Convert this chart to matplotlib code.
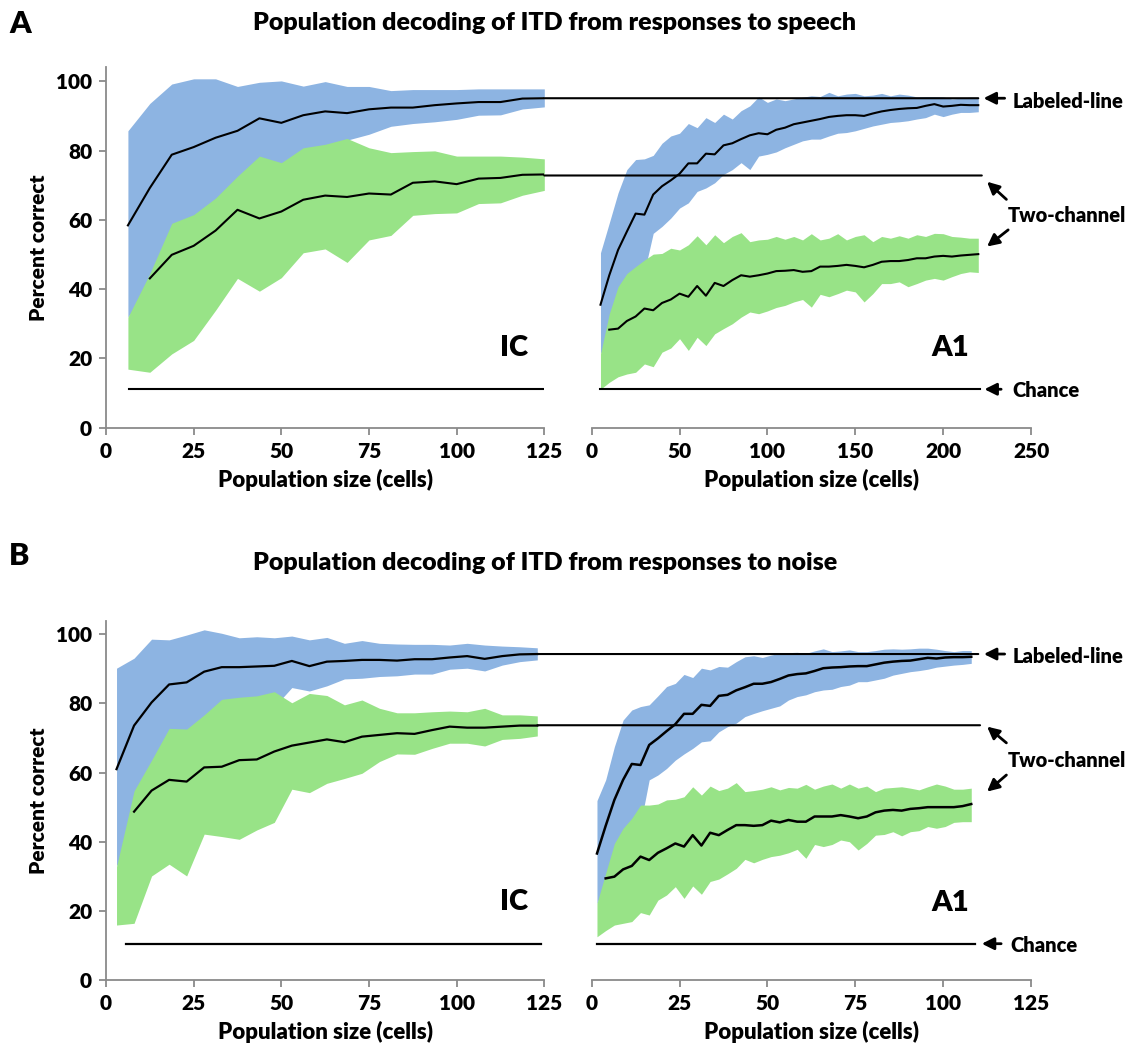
import numpy as np
import matplotlib
matplotlib.use("Agg")
import matplotlib.pyplot as plt
from matplotlib.patches import ConnectionPatch

plt.rcParams['font.family'] = ['Lato', 'DejaVu Sans']
plt.rcParams['font.weight'] = 'heavy'
WT = 'heavy'

BLUE = "#8db4e2"
GREEN = "#98e387"
SPINE = "#8a8a8a"
nan = np.nan

# ---------------- panel A (speech) ----------------
ic_speech_n = [6.25, 12.5, 18.75, 25, 31.25, 37.5, 43.75, 50, 56.25, 62.5,
               68.75, 75, 81.25, 87.5, 93.75, 100, 106.25, 112.5, 118.75, 125]
ic_speech_ll = [58.4, 69.2, 78.8, 81.0, 83.7, 85.7, 89.3, 88.0, 90.2, 91.3,
                90.8, 91.9, 92.4, 92.4, 93.1, 93.6, 94.0, 94.0, 95.0, 95.1]
ic_speech_ll_hi = [85.7, 93.6, 99.2, 100.7, 100.7, 98.5, 99.7, 100.1, 98.6, 99.9,
                   98.5, 98.5, 97.3, 97.6, 97.6, 97.6, 97.8, 97.8, 97.8, 97.8]
ic_speech_ll_lo = [32, 40, 48, 54, 62, 70, 74, 76, 80.5, 81.5,
                   83, 84.7, 87, 87.8, 88.3, 89, 90.2, 90.3, 92, 92.6]
ic_speech_tc = [nan, 43.1, 49.9, 52.5, 56.9, 62.9, 60.4, 62.4, 65.8, 67.0,
                66.6, 67.6, 67.3, 70.7, 71.1, 70.3, 71.9, 72.1, 73.0, 73.1]
ic_speech_tc_hi = [31.9, 44.5, 59.0, 61.5, 66.3, 72.6, 78.4, 76.5, 80.8, 81.8,
                   83.5, 80.8, 79.4, 79.7, 79.9, 78.4, 78.4, 78.4, 78.1, 77.6]
ic_speech_tc_lo = [16.9, 16.0, 21.3, 25.2, 33.9, 43.1, 39.4, 43.3, 50.5, 51.6,
                   47.7, 54.2, 55.5, 61.3, 61.8, 62.0, 64.7, 64.9, 67.1, 68.5]

a1_speech_n = np.arange(5, 221, 5)
a1_speech_ll = [35.5, 44.0, 51.3, 56.6, 61.8, 61.5, 67.3, 69.7, 71.4, 73.3,
                76.3, 76.3, 79.1, 78.9, 81.5, 82.1, 83.3, 84.4, 85.0, 84.7,
                86.0, 86.6, 87.6, 88.1, 88.6, 89.1, 89.7, 90.0, 90.2, 90.2,
                90.0, 90.7, 91.3, 91.7, 92.0, 92.2, 92.3, 92.9, 93.4, 92.7,
                92.9, 93.2, 93.1, 93.1]
a1_speech_ll_hi = [50.5, 59.1, 67.8, 74.5, 77.4, 77.6, 78.6, 82.1, 84.2, 85.0,
                   87.8, 86.6, 89.5, 88.1, 90.5, 89.1, 91.5, 92.9, 95.5, 93.9,
                   94.9, 94.4, 94.9, 95.4, 95.8, 95.6, 96.8, 95.8, 96.3, 96.5,
                   95.8, 96.0, 96.5, 95.8, 96.3, 96.0, 95.5, 95.6, 95.6, 95.5,
                   94.9, 95.1, 95.4, 95.4]
a1_speech_ll_lo = [21.3, 27, 33, 38, 42, 45, 56.1, 58.1, 60.5, 63.4,
                   64.9, 68.2, 69.2, 70.7, 73.1, 74.5, 76.5, 74.5, 78.4, 78.9,
                   79.6, 80.8, 81.8, 82.8, 83.3, 83.3, 84.2, 85.0, 85.2, 85.7,
                   86.4, 87.1, 87.6, 88.1, 88.3, 88.6, 89.1, 89.5, 90.5, 89.8,
                   90.5, 91.0, 91.0, 91.2]
a1_speech_tc = [nan, 28.3, 28.6, 30.8, 32.1, 34.4, 33.9, 36.0, 37.0, 38.7,
                37.8, 40.9, 38.1, 41.8, 40.9, 42.6, 44.0, 43.6, 44.0, 44.5,
                45.2, 45.3, 45.5, 45.0, 45.2, 46.5, 46.5, 46.7, 47.0, 46.7,
                46.3, 47.0, 47.9, 48.1, 48.1, 48.4, 48.9, 48.9, 49.4, 49.6,
                49.4, 49.7, 49.9, 50.1]
a1_speech_tc_hi = [21.3, 32.9, 40.7, 44.5, 46.5, 48.4, 50.1, 50.3, 51.8, 51.3,
                   52.8, 55.4, 52.8, 55.7, 53.4, 55.2, 56.3, 53.7, 54.2, 54.4,
                   55.2, 54.4, 55.2, 54.2, 56.0, 54.2, 54.7, 56.0, 54.2, 55.2,
                   55.7, 53.7, 55.2, 54.7, 55.4, 54.7, 55.7, 55.2, 56.1, 56.0,
                   55.2, 55.0, 54.7, 54.7]
a1_speech_tc_lo = [11.1, 13.1, 14.7, 15.5, 16.0, 18.4, 17.6, 21.8, 23.0, 25.7,
                   22.3, 26.1, 23.7, 27.1, 28.6, 30.0, 31.9, 33.4, 32.9, 33.7,
                   34.7, 35.3, 36.3, 37.0, 34.8, 38.5, 37.8, 38.7, 39.7, 39.2,
                   36.3, 38.7, 41.6, 41.6, 42.1, 40.7, 41.6, 42.6, 43.1, 42.6,
                   43.6, 44.5, 45.0, 44.8]

# ---------------- panel B (noise) ----------------
ic_noise_n = np.arange(3, 124, 5)
ic_noise_ll = [61.0, 73.6, 80.3, 85.5, 86.1, 89.2, 90.5, 90.5, 90.7, 90.9,
               92.3, 90.8, 92.1, 92.3, 92.6, 92.6, 92.4, 92.8, 92.8, 93.3,
               93.7, 92.9, 93.7, 94.2, 94.3]
ic_noise_ll_hi = [90.2, 93.1, 98.6, 98.4, 99.8, 101.3, 100.3, 99.0, 99.3, 99.0,
                  99.5, 98.4, 99.1, 97.4, 98.2, 97.4, 97.2, 97.1, 97.1, 96.9,
                  97.4, 96.9, 96.6, 96.4, 96.1]
ic_noise_ll_lo = [33, 42, 50, 57, 62, 67, 71, 74, 76, 79,
                  84.6, 83.6, 85.1, 87.1, 87.3, 87.8, 88.0, 88.5, 88.5, 89.9,
                  90.2, 89.4, 91.1, 92.1, 92.6]
ic_noise_tc = [nan, 48.7, 54.8, 57.9, 57.4, 61.5, 61.7, 63.6, 63.8, 66.1,
               67.8, 68.7, 69.6, 68.8, 70.4, 70.9, 71.4, 71.2, 72.3, 73.3,
               73.0, 73.0, 73.3, 73.6, 73.6]
ic_noise_tc_hi = [32.8, 54.7, 63.6, 72.8, 72.6, 76.7, 81.2, 81.8, 82.2, 83.4,
                  80.2, 82.9, 82.3, 79.6, 81.0, 78.6, 77.3, 77.3, 77.6, 77.8,
                  77.6, 78.6, 76.7, 76.7, 76.4]
ic_noise_tc_lo = [15.9, 16.4, 30.1, 33.5, 30.1, 42.2, 41.5, 40.7, 43.4, 45.6,
                  55.2, 54.2, 56.9, 58.3, 59.8, 63.2, 65.4, 65.3, 67.0, 68.5,
                  68.5, 67.7, 69.6, 69.9, 70.6]

a1_noise_n = np.linspace(1.5, 108, 44)
a1_noise_ll = [36.6, 44.6, 52.1, 57.9, 62.5, 62.2, 68.0, 69.9, 72.0, 74.0,
               77.0, 77.0, 79.6, 79.3, 82.2, 82.5, 83.8, 84.7, 85.7, 85.7,
               86.2, 87.1, 88.1, 88.5, 88.7, 89.4, 90.2, 90.4, 90.5, 90.7,
               90.8, 90.8, 91.3, 91.8, 92.1, 92.3, 92.4, 92.8, 93.2, 93.0,
               93.3, 93.4, 93.4, 93.5]
a1_noise_ll_hi = [51.9, 57.9, 67.5, 75.2, 78.1, 79.1, 79.6, 82.2, 84.9, 85.8,
                  88.4, 87.5, 90.2, 89.7, 90.7, 90.5, 92.1, 93.5, 93.8, 93.3,
                  94.0, 94.5, 94.7, 94.8, 94.5, 95.2, 95.8, 95.0, 95.2, 95.5,
                  95.0, 95.0, 95.3, 95.7, 95.8, 95.7, 95.8, 96.0, 96.0, 95.7,
                  95.3, 95.0, 95.3, 95.3]
a1_noise_ll_lo = [22.2, 28, 33, 37, 42, 45, 57.9, 59.3, 61.2, 63.6,
                  65.4, 67.0, 68.9, 69.2, 71.8, 73.3, 74.3, 76.2, 77.1, 77.9,
                  78.6, 79.3, 81.0, 82.0, 82.5, 83.4, 83.9, 84.1, 84.9, 85.3,
                  86.3, 86.3, 86.8, 87.3, 88.2, 88.7, 89.2, 89.5, 89.9, 90.5,
                  90.8, 91.1, 91.3, 91.6]
a1_noise_tc = [nan, 29.4, 29.9, 32.0, 33.0, 35.7, 34.7, 36.8, 38.1, 39.5,
               38.6, 41.9, 38.9, 42.6, 41.9, 43.4, 44.8, 44.8, 44.6, 44.8,
               46.1, 45.6, 46.3, 45.8, 45.8, 47.3, 47.3, 47.3, 47.7, 47.3,
               46.8, 47.3, 48.5, 49.0, 49.2, 49.0, 49.5, 49.7, 50.0, 50.0,
               50.0, 50.0, 50.3, 50.9]
a1_noise_tc_hi = [22.2, 30.9, 39.5, 43.9, 46.8, 50.6, 50.6, 50.9, 52.1, 52.3,
                  53.0, 55.9, 53.5, 56.1, 54.8, 55.5, 57.1, 54.5, 54.8, 55.2,
                  55.9, 55.0, 55.7, 55.5, 56.6, 55.2, 56.1, 56.7, 55.5, 56.7,
                  55.5, 56.1, 54.5, 55.5, 55.7, 55.9, 55.5, 55.0, 55.9, 56.7,
                  56.1, 55.2, 55.2, 55.5]
a1_noise_tc_lo = [12.5, 14.3, 15.9, 16.4, 16.9, 19.5, 18.8, 23.1, 24.6, 27.0,
                  23.6, 27.2, 24.8, 28.5, 29.2, 30.7, 32.3, 34.9, 33.9, 34.9,
                  35.7, 36.1, 36.8, 37.8, 35.2, 39.2, 38.6, 39.2, 40.5, 40.0,
                  37.6, 39.5, 41.9, 42.1, 42.9, 41.7, 42.9, 43.2, 44.4, 43.9,
                  44.4, 45.6, 45.8, 45.8]

# reference levels: labeled-line, two-channel, chance
speech_refs = [95.1, 72.8, 11.1]
noise_refs = [94.3, 73.7, 10.5]

W, H = 1130, 1050
fig = plt.figure(figsize=(W / 100, H / 100), dpi=100)


def px_axes(x0, x1, y0, ytop):
    return fig.add_axes([x0 / W, 1 - y0 / H, (x1 - x0) / W, (y0 - ytop) / H])


def style(ax, xmax, step, show_y):
    ax.set_xlim(0, xmax)
    ax.set_ylim(0, 104)
    ax.set_xticks(np.arange(0, xmax + 1, step))
    ax.spines['top'].set_visible(False)
    ax.spines['right'].set_visible(False)
    for s in ['left', 'bottom']:
        ax.spines[s].set_color(SPINE)
        ax.spines[s].set_linewidth(1.3)
    ax.tick_params(colors=SPINE, labelcolor='black', labelsize=15,
                   length=5, width=1.3, direction='out', pad=5)
    if show_y:
        ax.set_yticks([0, 20, 40, 60, 80, 100])
        ax.set_ylabel("Percent correct", fontsize=15, fontweight=WT,
                      labelpad=6)
    else:
        ax.spines['left'].set_visible(False)
        ax.set_yticks([])
    ax.set_xlabel("Population size (cells)", fontsize=16, fontweight=WT,
                  labelpad=6)
    for t in ax.get_xticklabels() + ax.get_yticklabels():
        t.set_fontweight(WT)


def bands(ax, n, ll, ll_hi, ll_lo, tc, tc_hi, tc_lo, lw):
    ax.fill_between(n, ll_lo, ll_hi, color=BLUE, lw=0, zorder=1)
    ax.fill_between(n, tc_lo, tc_hi, color=GREEN, lw=0, zorder=2)
    ax.plot(n, ll, color='black', lw=lw, zorder=4)
    ax.plot(n, tc, color='black', lw=lw, zorder=4)


def connect(axl, axr, xl, xr, y, lw):
    con = ConnectionPatch(xyA=(xl, y), coordsA=axl.transData,
                          xyB=(xr, y), coordsB=axr.transData,
                          color='black', lw=lw, zorder=5)
    fig.add_artist(con)


arrow = dict(arrowstyle='-|>', color='black', lw=2.0, mutation_scale=18,
             shrinkA=0, shrinkB=0)
ann_fs = 14.5

# ---- panel A ----
axA1 = px_axes(106, 544.3, 427.7, 67.4)
axA2 = px_axes(591.7, 1031, 427.7, 67.4)
style(axA1, 125, 25, True)
style(axA2, 250, 50, False)
bands(axA1, ic_speech_n, ic_speech_ll, ic_speech_ll_hi, ic_speech_ll_lo,
      ic_speech_tc, ic_speech_tc_hi, ic_speech_tc_lo, 1.5)
bands(axA2, a1_speech_n, a1_speech_ll, a1_speech_ll_hi, a1_speech_ll_lo,
      a1_speech_tc, a1_speech_tc_hi, a1_speech_tc_lo, 1.5)
axA1.plot([6.5, 125], [speech_refs[2]] * 2, color='black', lw=1.5, zorder=5)
axA2.plot([5, 221], [speech_refs[2]] * 2, color='black', lw=1.5, zorder=5)
connect(axA1, axA2, 125, 220, speech_refs[0], 1.5)
connect(axA1, axA2, 125, 222, speech_refs[1], 1.5)
axA1.text(116.5, 23, "IC", fontsize=21, fontweight=WT, ha='center', va='center')
axA2.text(204, 23, "A1", fontsize=21, fontweight=WT, ha='center', va='center')

axA2.annotate("", xy=(223, speech_refs[0]), xytext=(235, speech_refs[0]),
              arrowprops=arrow, annotation_clip=False)
axA2.text(239.5, speech_refs[0] - 0.8, "Labeled-line", fontsize=ann_fs, fontweight=WT,
          va='center', ha='left', clip_on=False)
axA2.annotate("", xy=(225, 71.0), xytext=(236, 65.9), arrowprops=arrow,
              annotation_clip=False)
axA2.annotate("", xy=(225, 52.3), xytext=(237, 57.1), arrowprops=arrow,
              annotation_clip=False)
axA2.text(236.5, 61.3, "Two-channel", fontsize=ann_fs, fontweight=WT,
          va='center', ha='left', clip_on=False)
axA2.annotate("", xy=(223.5, speech_refs[2]), xytext=(233, speech_refs[2]),
              arrowprops=arrow, annotation_clip=False)
axA2.text(239.5, speech_refs[2] - 0.5, "Chance", fontsize=ann_fs, fontweight=WT,
          va='center', ha='left', clip_on=False)

# ---- panel B ----
axB1 = px_axes(106, 544.3, 980, 620.5)
axB2 = px_axes(591.7, 1031, 980, 620.5)
style(axB1, 125, 25, True)
style(axB2, 125, 25, False)
bands(axB1, ic_noise_n, ic_noise_ll, ic_noise_ll_hi, ic_noise_ll_lo,
      ic_noise_tc, ic_noise_tc_hi, ic_noise_tc_lo, 1.6)
bands(axB2, a1_noise_n, a1_noise_ll, a1_noise_ll_hi, a1_noise_ll_lo,
      a1_noise_tc, a1_noise_tc_hi, a1_noise_tc_lo, 1.8)
axB1.plot([5.7, 124], [noise_refs[2]] * 2, color='black', lw=1.6, zorder=5)
axB2.plot([1.4, 109], [noise_refs[2]] * 2, color='black', lw=1.6, zorder=5)
connect(axB1, axB2, 123, 110, noise_refs[0], 1.5)
connect(axB1, axB2, 123, 110.5, noise_refs[1], 1.5)
axB1.text(116.5, 22.6, "IC", fontsize=21, fontweight=WT, ha='center', va='center')
axB2.text(102, 22.4, "A1", fontsize=21, fontweight=WT, ha='center', va='center')

axB2.annotate("", xy=(111.6, noise_refs[0]), xytext=(117.5, noise_refs[0]),
              arrowprops=arrow, annotation_clip=False)
axB2.text(119.8, noise_refs[0] - 0.8, "Labeled-line", fontsize=ann_fs, fontweight=WT,
          va='center', ha='left', clip_on=False)
axB2.annotate("", xy=(112.5, 73.3), xytext=(118, 68.6), arrowprops=arrow,
              annotation_clip=False)
axB2.annotate("", xy=(112.5, 54.5), xytext=(118, 59.3), arrowprops=arrow,
              annotation_clip=False)
axB2.text(118.5, 63.6, "Two-channel", fontsize=ann_fs, fontweight=WT,
          va='center', ha='left', clip_on=False)
axB2.annotate("", xy=(111, noise_refs[2]), xytext=(116.5, noise_refs[2]),
              arrowprops=arrow, annotation_clip=False)
axB2.text(119, noise_refs[2] - 0.5, "Chance", fontsize=ann_fs, fontweight=WT,
          va='center', ha='left', clip_on=False)

# titles and panel letters
fig.text(9 / W, 1 - 24 / H, "A", fontsize=22, fontweight=WT, va='center')
fig.text(253 / W, 1 - 23 / H, "Population decoding of ITD from responses to speech",
         fontsize=18, fontweight=WT, va='center', ha='left')
fig.text(9 / W, 1 - 556 / H, "B", fontsize=22, fontweight=WT, va='center')
fig.text(253 / W, 1 - 563 / H, "Population decoding of ITD from responses to noise",
         fontsize=18, fontweight=WT, va='center', ha='left')

fig.savefig("out.png", dpi=100)
